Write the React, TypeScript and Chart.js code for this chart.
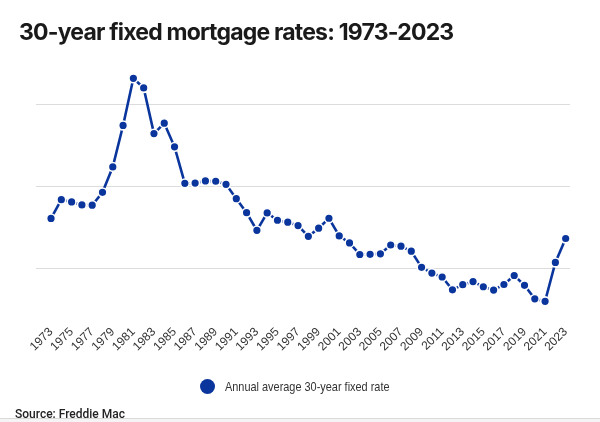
import React, { useEffect, useRef } from "react";
import { Chart, registerables } from "chart.js";

Chart.register(...registerables);

const years = [
  1973, 1974, 1975, 1976, 1977, 1978, 1979, 1980, 1981, 1982,
  1983, 1984, 1985, 1986, 1987, 1988, 1989, 1990, 1991, 1992,
  1993, 1994, 1995, 1996, 1997, 1998, 1999, 2000, 2001, 2002,
  2003, 2004, 2005, 2006, 2007, 2008, 2009, 2010, 2011, 2012,
  2013, 2014, 2015, 2016, 2017, 2018, 2019, 2020, 2021, 2022, 2023,
];

const rates = [
  8.04, 9.19, 9.05, 8.87, 8.85, 9.64, 11.2, 13.74, 16.63, 16.04,
  13.24, 13.88, 12.43, 10.19, 10.21, 10.34, 10.32, 10.13, 9.25, 8.39,
  7.31, 8.38, 7.93, 7.81, 7.6, 6.94, 7.44, 8.05, 6.97, 6.54,
  5.83, 5.84, 5.87, 6.41, 6.34, 6.03, 5.04, 4.69, 4.45, 3.66,
  3.98, 4.17, 3.85, 3.65, 3.99, 4.54, 3.94, 3.11, 2.96, 5.34, 6.81,
];

const tickYears = [
  1973, 1975, 1977, 1979, 1981, 1983, 1985, 1987, 1989, 1991, 1993, 1995, 1997,
  1999, 2001, 2003, 2005, 2007, 2009, 2011, 2013, 2015, 2017, 2019, 2021, 2023,
];

const gridValues = [5, 10, 15];

const seriesLabel = "Annual average 30-year fixed rate";
const titleText = "30-year fixed mortgage rates: 1973-2023";
const sourceText = "Source: Freddie Mac";

const BLUE = "#0a359c";

export default function App() {
  const canvasRef = useRef<HTMLCanvasElement | null>(null);

  useEffect(() => {
    document.body.style.margin = "0";
    const canvas = canvasRef.current;
    if (!canvas) return;
    const chart = new Chart(canvas, {
      type: "line",
      data: {
        datasets: [
          {
            label: seriesLabel,
            data: years.map((y, i) => ({ x: y, y: rates[i] })),
            borderColor: BLUE,
            backgroundColor: BLUE,
            borderWidth: 2.6,
            pointRadius: 4.4,
            pointBorderWidth: 1.6,
            pointBorderColor: "#ffffff",
            pointBackgroundColor: BLUE,
            tension: 0,
          },
        ],
      },
      options: {
        responsive: false,
        animation: false,
        layout: { padding: { top: 72.3, left: 36, right: 30, bottom: 60 } },
        plugins: {
          legend: { display: false },
          title: { display: false },
          tooltip: { enabled: false },
        },
        scales: {
          x: {
            type: "linear",
            min: 1971.54,
            max: 2023.42,
            afterBuildTicks: (axis: any) => {
              axis.ticks = tickYears.map((v) => ({ value: v }));
            },
            grid: { display: false, drawTicks: false },
            border: { display: false },
            ticks: {
              autoSkip: false,
              maxRotation: 45,
              minRotation: 45,
              padding: 8,
              color: "#333333",
              font: { family: "Arial, 'Liberation Sans', sans-serif", size: 12 },
              callback: (v: any) => String(v),
            },
          },
          y: {
            min: 2,
            max: 17,
            afterBuildTicks: (axis: any) => {
              axis.ticks = gridValues.map((v) => ({ value: v }));
            },
            grid: { color: "#dcdcdc", lineWidth: 1, drawTicks: false },
            border: { display: false },
            ticks: { display: false },
          },
        },
      },
    });
    return () => chart.destroy();
  }, []);

  return (
    <div style={{ position: "absolute", left: 0, top: 0, width: 600, height: 422, background: "#fff", overflow: "hidden" }}>
      <canvas ref={canvasRef} width={600} height={422} style={{ position: "absolute", left: 0, top: 0, width: 600, height: 422 }} />
      <div
        style={{
          position: "absolute",
          left: 19,
          top: 21,
          fontFamily: "Inter, 'Noto Sans', sans-serif",
          fontWeight: 700,
          fontSize: 23,
          lineHeight: "23px",
          letterSpacing: "-0.8px",
          color: "#1a1a1a",
          whiteSpace: "nowrap",
        }}
      >
        {titleText}
      </div>
      <div
        style={{
          position: "absolute",
          left: 199.5,
          top: 379,
          width: 15,
          height: 15,
          borderRadius: "50%",
          background: BLUE,
        }}
      />
      <div
        style={{
          position: "absolute",
          left: 225,
          top: 380,
          fontFamily: "Arial, 'Liberation Sans', sans-serif",
          fontSize: 13,
          lineHeight: "13px",
          color: "#333333",
          whiteSpace: "nowrap",
          transform: "scaleX(0.84)",
          transformOrigin: "0 0",
        }}
      >
        {seriesLabel}
      </div>
      <div
        style={{
          position: "absolute",
          left: 15,
          top: 408,
          fontFamily: "Roboto, Arial, sans-serif",
          fontWeight: 500,
          fontSize: 12,
          lineHeight: "12px",
          color: "#222222",
          whiteSpace: "nowrap",
        }}
      >
        {sourceText}
      </div>
      <div
        style={{
          position: "absolute",
          left: 0,
          top: 418,
          width: 600,
          height: 4,
          borderTop: "1px solid #d9d9d9",
          background: "#f4f4f4",
          boxSizing: "border-box",
        }}
      />
    </div>
  );
}
